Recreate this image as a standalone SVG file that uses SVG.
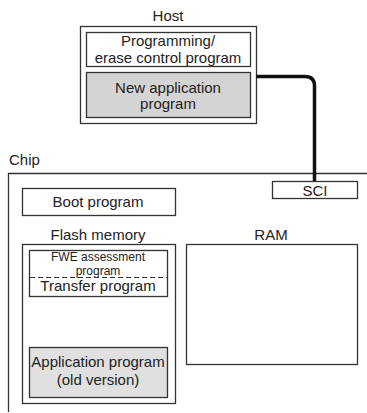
<svg xmlns="http://www.w3.org/2000/svg" width="367" height="413" viewBox="0 0 367 413">
<style>
.t{font-family:"Liberation Sans",Arial,sans-serif;font-size:15px;fill:#222;text-anchor:middle}
.s{font-size:12px}
.b{fill:#fff;stroke:#333;stroke-width:1.3}
.g{fill:#d4d4d4}
.g2{fill:#e0e0e0}
</style>
<rect width="367" height="413" fill="#fff"/>
<g id="host">
<text class="t" x="168" y="21">Host</text>
<rect class="b" x="80.5" y="26.5" width="176" height="97"/>
</g>
<g id="pe-control">
<rect class="b" x="86.5" y="32.5" width="164" height="34"/>
<text class="t" x="168" y="46">Programming/</text>
<text class="t" x="168" y="62.5">erase control program</text>
</g>
<g id="new-app">
<rect class="b g" x="86.5" y="72.5" width="164" height="45"/>
<text class="t" x="168" y="93">New application</text>
<text class="t" x="168" y="109">program</text>
</g>
<g id="chip">
<text class="t" x="9" y="165" style="text-anchor:start">Chip</text>
<path d="M8.5 412V173.5H370" fill="none" stroke="#333" stroke-width="1.3"/>
</g>
<g id="connectors">
<path d="M256.5 76.5H305Q314.5 76.5 314.5 86V181" fill="none" stroke="#111" stroke-width="3.5"/>
</g>
<g id="sci">
<rect class="b" x="272.5" y="181.5" width="85" height="17"/>
<text class="t" x="315" y="196">SCI</text>
</g>
<g id="boot">
<rect class="b" x="22.5" y="188.5" width="153" height="27"/>
<text class="t" x="98" y="207">Boot program</text>
</g>
<g id="flash">
<text class="t" x="98" y="240">Flash memory</text>
<rect class="b" x="22.5" y="244.5" width="153" height="159"/>
</g>
<g id="fwe">
<rect class="b" x="29.5" y="250.5" width="138" height="46"/>
<text class="t s" x="98" y="261">FWE assessment</text>
<text class="t s" x="98" y="274.5">program</text>
<line x1="30" y1="277.5" x2="167" y2="277.5" stroke="#333" stroke-width="1" stroke-dasharray="5,3"/>
<text class="t" x="98" y="291">Transfer program</text>
</g>
<g id="app-old">
<rect class="b g2" x="29.5" y="347.5" width="138" height="50"/>
<text class="t" x="98" y="367">Application program</text>
<text class="t" x="98" y="385">(old version)</text>
</g>
<g id="ram">
<text class="t" x="271" y="240">RAM</text>
<rect class="b" x="186.5" y="244.5" width="171" height="120"/>
</g>
</svg>
